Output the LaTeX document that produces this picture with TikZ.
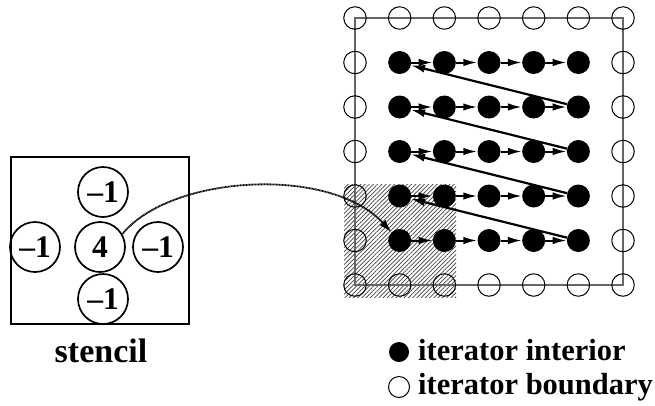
\documentclass[tikz,border=0pt]{standalone}
\usepackage{fontspec}
\setmainfont{Liberation Serif}
\usetikzlibrary{arrows.meta,patterns.meta}
\begin{document}
\begin{tikzpicture}[x=1pt,y=-1pt,
  bnd/.style={circle,draw,line width=1pt,minimum size=22.5pt,inner sep=0pt},
  intr/.style={circle,fill=black,minimum size=23pt,inner sep=0pt},
  stc/.style={circle,draw,line width=1.7pt,minimum size=50pt,inner sep=0pt,
    font=\fontsize{31.5}{34}\selectfont\bfseries},
  rowarr/.style={-{Latex[length=14pt,width=7.5pt]},line width=2pt},
  backarr/.style={-{Latex[length=14pt,width=8pt]},line width=2.2pt},
  lbl/.style={font=\fontsize{30.5}{32}\selectfont\bfseries,inner sep=0pt}]
\useasboundingbox (0,0) rectangle (655,405);

% hatched window around the first interior point
\fill[pattern={Lines[angle=45,distance=3pt,line width=0.7pt]},pattern color=black!75]
  (344,184) rectangle (456,297);

% iteration space outline
\draw[line width=1.6pt,black!60] (355,18) rectangle (623,285);

% boundary points
\foreach \i in {0,...,6}{
  \node[bnd] (b-\i-0) at (355+44.67*\i,18) {};
  \node[bnd] (b-\i-6) at (355+44.67*\i,285) {};
}
\foreach \j in {1,...,5}{
  \node[bnd] (b-0-\j) at (355,18+44.5*\j) {};
  \node[bnd] (b-6-\j) at (623,18+44.5*\j) {};
}

% interior points
\foreach \i in {1,...,5}
  \foreach \j in {1,...,5}
    \node[intr] (p-\i-\j) at (355+44.67*\i,18+44.5*\j) {};

% traversal within each row
\foreach \j in {1,...,5}
  \foreach \i/\k in {1/2,2/3,3/4,4/5}
    \draw[rowarr] (p-\i-\j) -- (p-\k-\j);

% jumps from the end of one row to the start of the row above
\foreach \j/\u in {2/1,3/2,4/3,5/4}
  \draw[backarr] (p-5-\j) -- (p-1-\u);

% stencil
\draw[line width=1.2pt] (11,157) rectangle (189,324);
\node[stc] (s-n) at (103,192) {–1};
\node[stc] (s-c) at (100,247) {4};
\node[stc] (s-w) at (35,247) {–1};
\node[stc] (s-e) at (158,247) {–1};
\node[stc] (s-s) at (103,299) {–1};
\node[lbl,font=\fontsize{34}{36}\selectfont\bfseries,anchor=base] (stl) at (101,362) {stencil};

% stencil applied at the first interior point
\draw[dash pattern=on 1pt off 0.5pt,line width=1.8pt,-{Latex[length=13pt,width=8pt]}]
  (s-c.30) .. controls (170,175) and (330,165) .. (p-1-5.135);

% legend
\node[intr,minimum size=20pt] (li) at (399,352) {};
\node[bnd,minimum size=21pt] (lb) at (399,387) {};
\node[lbl,anchor=base west] (ti) at (418,360) {iterator interior};
\node[lbl,anchor=base west] (tb) at (418,394) {iterator boundary};
\end{tikzpicture}
\end{document}
